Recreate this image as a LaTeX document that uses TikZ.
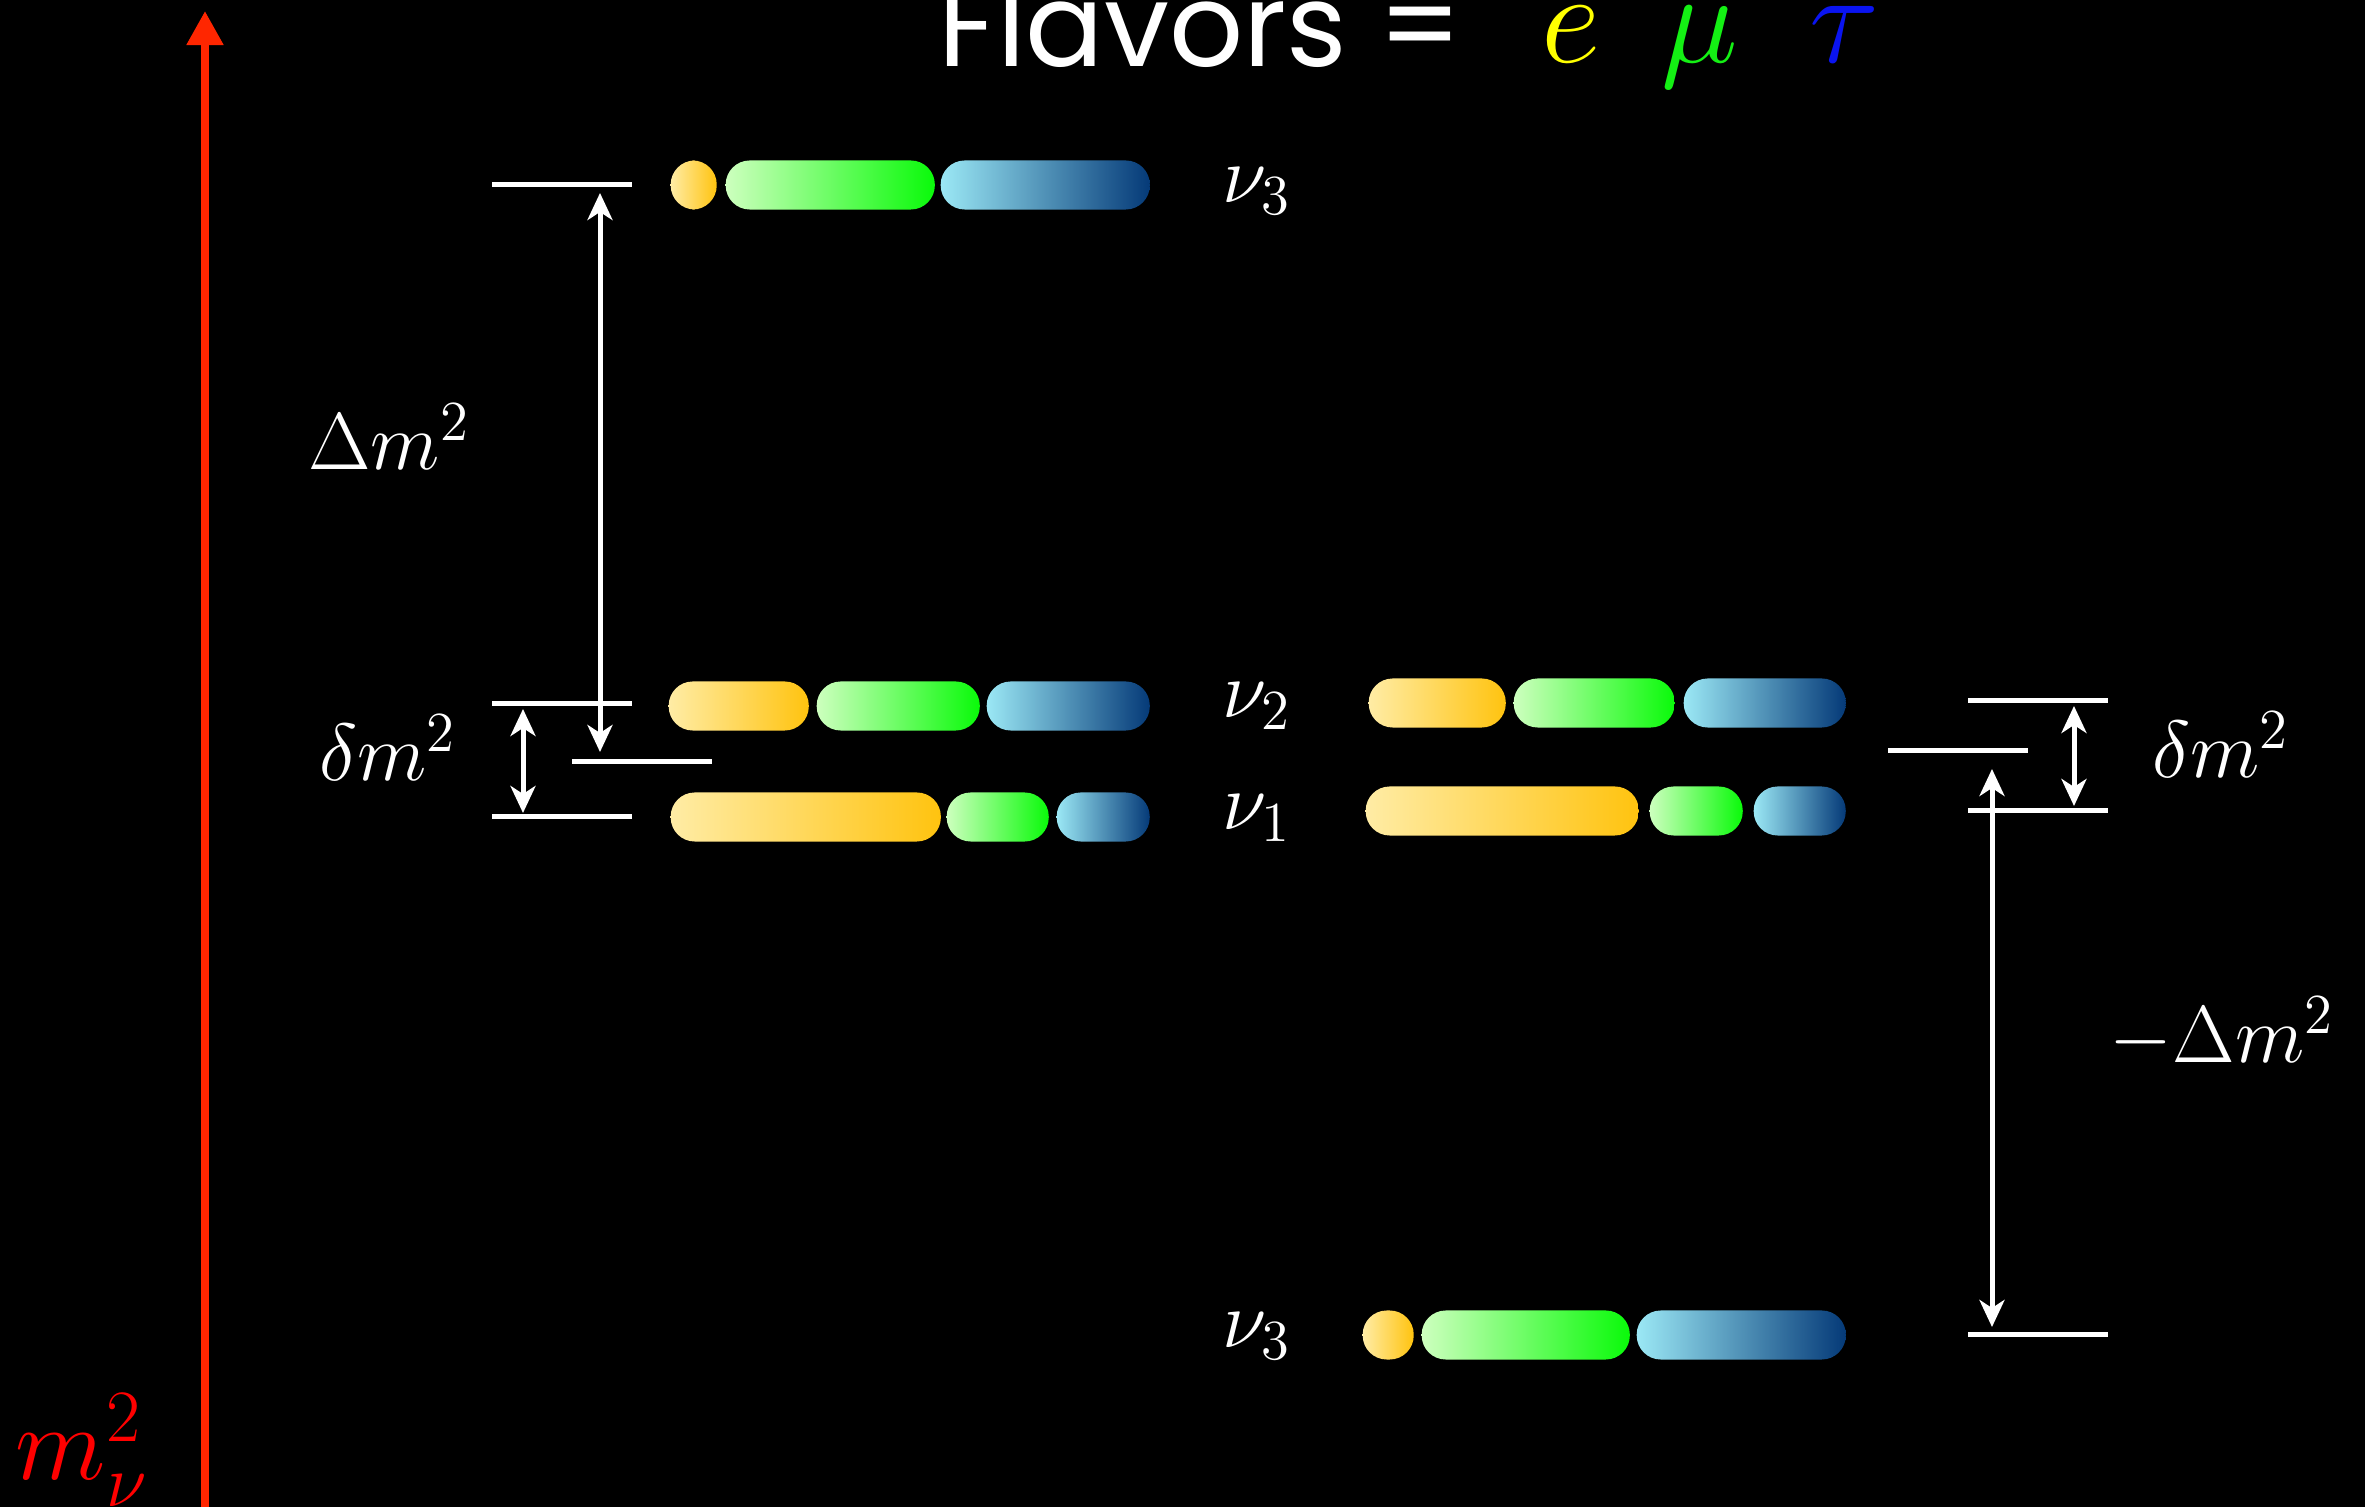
\documentclass[tikz,border=0pt]{standalone}
\usepackage{fix-cm}
\usepackage{fontspec}
\newfontfamily\chalkfont{Poppins}
\usetikzlibrary{arrows.meta}
\definecolor{eLight}{RGB}{255,236,165}
\definecolor{eDark}{RGB}{255,195,15}
\definecolor{muLight}{RGB}{205,255,190}
\definecolor{muDark}{RGB}{10,250,10}
\definecolor{tauLight}{RGB}{155,232,245}
\definecolor{tauDark}{RGB}{5,58,120}
\definecolor{axisRed}{RGB}{255,38,0}
\definecolor{flavE}{RGB}{255,255,0}
\definecolor{flavMu}{RGB}{20,240,20}
\definecolor{flavTau}{RGB}{10,20,240}
\tikzset{
  level/.style={fill=white, inner sep=0pt, minimum width=1.4cm, minimum height=0.05cm},
  pill/.style={rounded corners=0.24cm, inner sep=0pt, minimum height=0.49cm, anchor=west},
  ebar/.style={pill, left color=eLight, right color=eDark},
  mubar/.style={pill, left color=muLight, right color=muDark},
  taubar/.style={pill, left color=tauLight, right color=tauDark},
  gap/.style={white, line width=0.05cm, {Stealth[length=0.27cm,width=0.25cm,inset=0.08cm]}-{Stealth[length=0.27cm,width=0.25cm,inset=0.08cm]}},
  lab/.style={white, font=\fontsize{23}{28}\selectfont, inner sep=0pt},
}
\begin{document}
\begin{tikzpicture}[x=0.01cm,y=-0.01cm]
\fill[black] (0,0) rectangle (2365,1507);
\useasboundingbox (0,0) rectangle (2365,1507);

% mass axis
\coordinate (axBot) at (205,1507);
\coordinate (axTop) at (205,11);
\draw[axisRed, line width=0.08cm, -{Triangle[length=0.34cm,width=0.35cm]}] (axBot) -- (axTop);
\node[red, font=\fontsize{30}{36}\selectfont, inner sep=0pt, anchor=base west] (mnu) at (15,1480) {$m_\nu^2$};

% title
\node[white, font=\chalkfont\fontsize{33}{40}\selectfont, inner sep=0pt, anchor=base west] (title) at (938,67) {Flavors =};
\node[flavE, font=\fontsize{37}{44}\selectfont, inner sep=0pt, anchor=base] (tE) at (1571,63) {$e$};
\node[flavMu, font=\fontsize{37}{44}\selectfont, inner sep=0pt, anchor=base] (tMu) at (1700,63) {$\mu$};
\node[flavTau, font=\fontsize{37}{44}\selectfont, inner sep=0pt, anchor=base] (tTau) at (1844,63) {$\tau$};

% normal ordering
\node[level] (lvL3) at (562,185) {};
\node[level] (lvL2) at (562,704) {};
\node[level] (lvL1) at (562,817) {};
\node[level] (lvLmid) at (642,762) {};

\node[ebar, minimum width=0.46cm] (L3e) at (670,185) {};
\node[mubar, minimum width=2.09cm] (L3mu) at (725,185) {};
\node[taubar, minimum width=2.09cm] (L3tau) at (940,185) {};
\node[ebar, minimum width=1.40cm] (L2e) at (668,706) {};
\node[mubar, minimum width=1.63cm] (L2mu) at (816,706) {};
\node[taubar, minimum width=1.63cm] (L2tau) at (986,706) {};
\node[ebar, minimum width=2.70cm] (L1e) at (670,817) {};
\node[mubar, minimum width=1.02cm] (L1mu) at (946,817) {};
\node[taubar, minimum width=0.93cm] (L1tau) at (1056,817) {};

\node[lab, anchor=west] (nuL3) at (1222,191) {$\nu_3$};
\node[lab, anchor=west] (nuL2) at (1222,706) {$\nu_2$};
\node[lab, anchor=west] (nuL1) at (1222,818) {$\nu_1$};

\coordinate (bigLtop) at (600,193);
\coordinate (bigLbot) at (600,752);
\draw[gap] (bigLtop) -- (bigLbot);
\coordinate (smLtop) at (523,709);
\coordinate (smLbot) at (523,813);
\draw[gap] (smLtop) -- (smLbot);
\node[lab] (DmL) at (389,437) {$\Delta m^2$};
\node[lab] (dmL) at (388,748) {$\delta m^2$};

% inverted ordering
\node[level] (lvR2) at (2038,701) {};
\node[level] (lvR1) at (2038,811) {};
\node[level] (lvRmid) at (1958,751) {};
\node[level] (lvR3) at (2038,1335) {};

\node[ebar, minimum width=1.37cm] (R2e) at (1368,703) {};
\node[mubar, minimum width=1.61cm] (R2mu) at (1513,703) {};
\node[taubar, minimum width=1.62cm] (R2tau) at (1683,703) {};
\node[ebar, minimum width=2.73cm] (R1e) at (1365,811) {};
\node[mubar, minimum width=0.93cm] (R1mu) at (1649,811) {};
\node[taubar, minimum width=0.92cm] (R1tau) at (1753,811) {};
\node[ebar, minimum width=0.51cm] (R3e) at (1362,1335) {};
\node[mubar, minimum width=2.08cm] (R3mu) at (1421,1335) {};
\node[taubar, minimum width=2.09cm] (R3tau) at (1636,1335) {};

\node[lab, anchor=west] (nuR3) at (1222,1336) {$\nu_3$};

\coordinate (smRtop) at (2074,706);
\coordinate (smRbot) at (2074,806);
\draw[gap] (smRtop) -- (smRbot);
\coordinate (bigRtop) at (1992,769);
\coordinate (bigRbot) at (1992,1327);
\draw[gap] (bigRtop) -- (bigRbot);
\node[lab] (dmR) at (2221,745) {$\delta m^2$};
\node[lab] (DmR) at (2222,1033) {$-\Delta m^2$};
\end{tikzpicture}
\end{document}
